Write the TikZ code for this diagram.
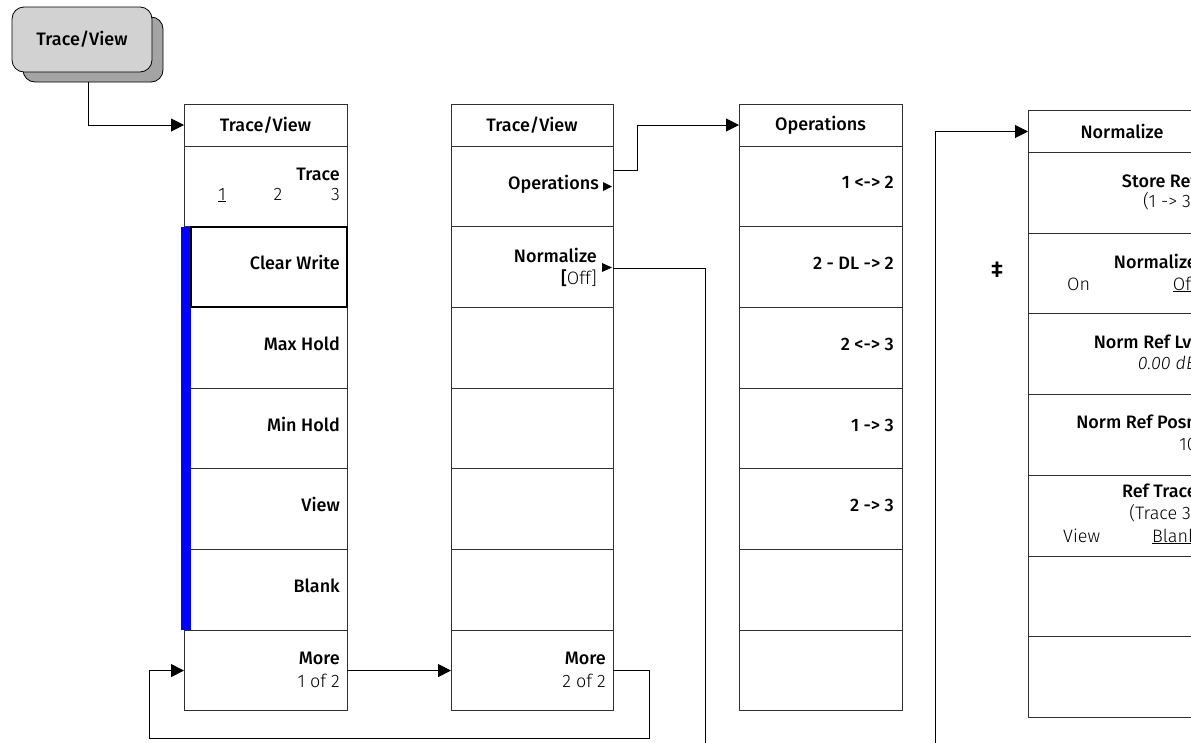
\documentclass[tikz,border=0pt]{standalone}
\usepackage{fontspec}
\setmainfont{Fira Sans Medium}
\newfontfamily\lt{Fira Sans Light}
\usetikzlibrary{arrows.meta,calc}
\definecolor{btnface}{HTML}{D2D2D2}
\definecolor{btnshade}{HTML}{A4A4A4}
\definecolor{edge}{HTML}{303030}
\newcommand\fsz{\fontsize{18}{22}\selectfont}
\begin{document}
\begin{tikzpicture}[x=1pt,y=-1pt,
  cell/.style={draw=edge,line width=1pt,minimum height=80.7pt,inner sep=0pt,outer sep=0pt,anchor=north west},
  hdrcell/.style={cell,minimum height=42pt},
  lbl/.style={inner sep=0pt,font=\fsz},
  val/.style={inner sep=0pt,font=\fsz\lt},
  conn/.style={draw=black,line width=1pt,-{Triangle[length=13pt,width=13pt]}},
  wire/.style={draw=black,line width=1pt},
  tri/.style={fill=black}]
\useasboundingbox (0,0) rectangle (1191,742);
\clip (0,0) rectangle (1191,742);

% columns
\foreach \col/\x/\y/\w in {1/184/104/163, 2/451/104/162, 3/739/104/163, 4/1028/110.5/176}{
  \node[hdrcell,minimum width=\w pt] (h\col) at (\x,\y) {};
  \foreach \r in {1,...,7}{
    \node[cell,minimum width=\w pt] (c\col r\r) at (\x,{\y+42+(\r-1)*80.7}) {};
  }
}

% selection bar and highlighted key
\fill[blue] (181,226.7) rectangle (190.5,630.2);
\draw[line width=2pt,draw=black] (190.5,226.7) rectangle (347,307.4);

% hard key button
\draw[fill=btnshade,draw=black,line width=0.8pt,rounded corners=12pt] (23,17) rectangle (163,82);
\node[draw=black,fill=btnface,line width=0.8pt,rounded corners=12pt,minimum width=140pt,minimum height=65pt,inner sep=0pt,font=\fsz] (btn) at (82,39.5) {Trace/View};

% headers
\node[lbl] at (h1) {Trace/View};
\node[lbl] at (h2) {Trace/View};
\node[lbl] at (h3) {Operations};
\node[lbl] at ($(h4.center)+(6,0)$) {Normalize};

% column 1
\node[lbl,anchor=base east] at (340,180) {Trace};
\node[val,anchor=base] at (222,200) {\underline{1}};
\node[val,anchor=base] at (278,200) {2};
\node[val,anchor=base east] at (340,200) {3};
\node[lbl,anchor=mid east] at ($(c1r2.east)+(-7,0)$) {Clear Write};
\node[lbl,anchor=mid east] at ($(c1r3.east)+(-7,0)$) {Max Hold};
\node[lbl,anchor=mid east] at ($(c1r4.east)+(-7,0)$) {Min Hold};
\node[lbl,anchor=mid east] at ($(c1r5.east)+(-7,0)$) {View};
\node[lbl,anchor=mid east] at ($(c1r6.east)+(-7,0)$) {Blank};
\node[lbl,anchor=base east] at (340,664) {More};
\node[val,anchor=base east] at (340,687) {1 of 2};

% column 2
\node[lbl,anchor=mid east] at (599,186.4) {Operations};
\fill[tri] (603,182) -- (612,186.5) -- (603,191) -- cycle;
\node[lbl,anchor=base east] at (597,262) {Normalize};
\node[lbl,anchor=base east] at (597,284) {[\lt Off]};
\fill[tri] (602,263) -- (612,267.5) -- (602,272) -- cycle;
\node[lbl,anchor=base east] at (606,664) {More};
\node[val,anchor=base east] at (606,687) {2 of 2};

% column 3
\node[lbl,anchor=mid east] at ($(c3r1.east)+(-8,0)$) {1 <-> 2};
\node[lbl,anchor=mid east] at ($(c3r2.east)+(-8,0)$) {2 - DL -> 2};
\node[lbl,anchor=mid east] at ($(c3r3.east)+(-8,0)$) {2 <-> 3};
\node[lbl,anchor=mid east] at ($(c3r4.east)+(-8,0)$) {1 -> 3};
\node[lbl,anchor=mid east] at ($(c3r5.east)+(-8,0)$) {2 -> 3};

% column 4
\node[lbl,anchor=base east] at (1197,187) {Store Ref};
\node[val,anchor=base east] at (1197,207) {(1 -> 3)};
\node[inner sep=0pt,font=\fontsize{23}{26}\selectfont] at (997,270) {‡};
\node[lbl,anchor=base east] at (1197,268) {Normalize};
\node[val,anchor=base west] at (1067,290) {On};
\node[val,anchor=base east] at (1197,290) {\underline{Off}};
\node[lbl,anchor=base east] at (1197,348) {Norm Ref Lvl};
\node[val,anchor=base east] at (1197,369) {\itshape 0.00 dB};
\node[lbl,anchor=base east] at (1197,428) {Norm Ref Posn};
\node[val,anchor=base east] at (1197,450) {10};
\node[lbl,anchor=base east] at (1197,497) {Ref Trace};
\node[val,anchor=base east] at (1197,519) {(Trace 3)};
\node[val,anchor=base west] at (1063,542) {View};
\node[val,anchor=base east] at (1197,542) {\underline{Blank}};

% connectors
\draw[conn] ($(btn.south)+(6,10)$) |- (h1.west);
\draw[conn] (c1r7.east) -- (c2r7.west);
\draw[conn] (c2r7.east) -- ++(36,0) -- ++(0,68.4) -| ($(c1r7.west)+(-35,0)$) -- (c1r7.west);
\draw[conn] ($(c2r1.north east)+(0,24)$) -- ++(24,0) |- (h3.west);
\coordinate (nbot) at (705,750);
\draw[wire] ($(c2r2.east)+(0,1)$) -| (nbot);
\coordinate (nbot2) at (935,750);
\draw[conn] (nbot2) |- (h4.west);
\end{tikzpicture}
\end{document}
